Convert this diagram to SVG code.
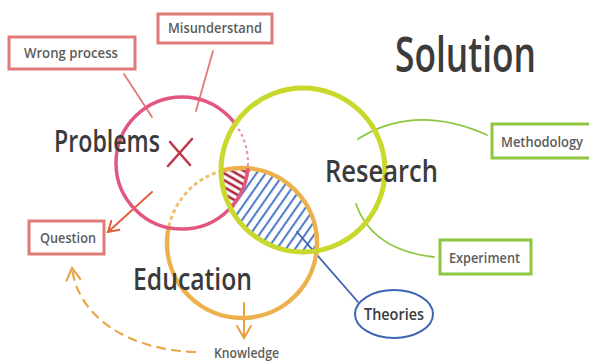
<svg xmlns="http://www.w3.org/2000/svg" width="589" height="363" viewBox="0 0 589 363">
<style>
.big{font-family:"Open Sans","Liberation Sans",sans-serif;font-weight:600;fill:#3b3b3b}
.lbl{font-family:"Open Sans","Liberation Sans",sans-serif;font-weight:600;font-size:14px;fill:#5c5c5c}
.pbox{fill:#fff;stroke:#e07a78;stroke-width:3}
.gbox{fill:#fff;stroke:#8dc63f;stroke-width:3}
.conn{fill:none;stroke-linecap:round}
</style>
<defs>
<clipPath id="cP"><circle cx="182" cy="163" r="66"/></clipPath>
<clipPath id="cG"><circle cx="303" cy="170" r="82"/></clipPath>
<clipPath id="cO"><circle cx="242" cy="243" r="75"/></clipPath>
<mask id="notP" maskUnits="userSpaceOnUse" x="0" y="0" width="589" height="363"><rect width="589" height="363" fill="#fff"/><circle cx="182" cy="163" r="66" fill="#000"/></mask>
<mask id="pSolid" maskUnits="userSpaceOnUse" x="0" y="0" width="589" height="363"><rect width="589" height="363" fill="#fff"/><circle cx="303" cy="170" r="82" fill="#000"/><circle cx="242" cy="243" r="75" fill="#fff"/></mask>
<mask id="pDash" maskUnits="userSpaceOnUse" x="0" y="0" width="589" height="363"><rect width="589" height="363" fill="#000"/><circle cx="303" cy="170" r="82" fill="#fff"/><circle cx="242" cy="243" r="75" fill="#000"/></mask>
<mask id="oSolid" maskUnits="userSpaceOnUse" x="0" y="0" width="589" height="363"><rect width="589" height="363" fill="#fff"/><circle cx="182" cy="163" r="66" fill="#000"/><circle cx="303" cy="170" r="82" fill="#fff"/></mask>
<mask id="oDash" maskUnits="userSpaceOnUse" x="0" y="0" width="589" height="363"><rect width="589" height="363" fill="#000"/><circle cx="182" cy="163" r="66" fill="#fff"/><circle cx="303" cy="170" r="82" fill="#000"/></mask>
<pattern id="blueHatch" width="7.5" height="10" patternUnits="userSpaceOnUse" patternTransform="rotate(35)"><line x1="2" y1="0" x2="2" y2="10" stroke="#4a78c8" stroke-width="2"/></pattern>
<pattern id="redHatch" width="10" height="6" patternUnits="userSpaceOnUse" patternTransform="rotate(30)"><line x1="0" y1="2" x2="10" y2="2" stroke="#a8283c" stroke-width="2.6"/></pattern>
<marker id="arrR" markerWidth="14" markerHeight="14" refX="12" refY="7" orient="auto" markerUnits="userSpaceOnUse"><path d="M2 1 L12 7 L2 13" fill="none" stroke="#e0603a" stroke-width="2" stroke-linecap="round"/></marker>
<marker id="arrO" markerWidth="16" markerHeight="16" refX="14" refY="8" orient="auto" markerUnits="userSpaceOnUse"><path d="M2 1 L14 8 L2 15" fill="none" stroke="#e8a040" stroke-width="2" stroke-linecap="round"/></marker>
</defs>
<rect width="589" height="363" fill="#fff"/>

<g id="hatching">
<g clip-path="url(#cG)"><g mask="url(#notP)"><rect x="160" y="160" width="230" height="170" fill="url(#blueHatch)" clip-path="url(#cO)"/></g></g>
<g clip-path="url(#cP)"><g clip-path="url(#cG)"><rect x="200" y="150" width="80" height="70" fill="url(#redHatch)" clip-path="url(#cO)"/></g></g>
</g>

<g id="connectors">
<line class="conn" x1="124" y1="74" x2="152" y2="117" stroke="#e07a78" stroke-width="1.8"/>
<line class="conn" x1="213" y1="51" x2="196" y2="111" stroke="#e07a78" stroke-width="1.8"/>
<path class="conn" d="M358 139 Q415 103 487 135" stroke="#8dc63f" stroke-width="1.8"/>
<path class="conn" d="M356 204 Q372 250 434 257" stroke="#8dc63f" stroke-width="1.8"/>
<line class="conn" x1="297" y1="232" x2="358" y2="302" stroke="#3f63b0" stroke-width="1.8"/>
<line class="conn" x1="152" y1="192" x2="108" y2="232" stroke="#e0603a" stroke-width="2" marker-end="url(#arrR)"/>
<line class="conn" x1="244" y1="303" x2="244" y2="338" stroke="#e8a040" stroke-width="2" marker-end="url(#arrO)"/>
<path class="conn" d="M195 352 C130 350 78 318 72 268" stroke="#e8a848" stroke-width="2.2" stroke-dasharray="8 7" marker-end="url(#arrO)"/>
</g>

<g id="education">
<circle cx="242" cy="243" r="75" fill="none" stroke="#ecb04d" stroke-width="4.5" mask="url(#oSolid)"/>
<circle cx="242" cy="243" r="75" fill="none" stroke="#f0c070" stroke-width="3" stroke-dasharray="4 3" mask="url(#oDash)"/>
<text class="big" x="133" y="290" font-size="30" textLength="119" lengthAdjust="spacingAndGlyphs">Education</text>
</g>

<g id="problems">
<circle cx="182" cy="163" r="66" fill="none" stroke="#e2577f" stroke-width="3.5" mask="url(#pSolid)"/>
<circle cx="182" cy="163" r="66" fill="none" stroke="#ec8aa6" stroke-width="2" stroke-dasharray="3 3" mask="url(#pDash)"/>
<text class="big" x="54" y="152" font-size="30" textLength="106" lengthAdjust="spacingAndGlyphs">Problems</text>
<path d="M170 142 L190 165 M192 139 L168 166" fill="none" stroke="#c0394b" stroke-width="2.6" stroke-linecap="round"/>
</g>

<g id="research">
<circle cx="303" cy="170" r="82" fill="none" stroke="#c8d82c" stroke-width="5"/>
<text class="big" x="325" y="182" font-size="30" textLength="113" lengthAdjust="spacingAndGlyphs">Research</text>
</g>

<g id="solution">
<text class="big" x="395" y="72" font-size="48" textLength="141" lengthAdjust="spacingAndGlyphs">Solution</text>
</g>

<g id="wrong-process">
<rect class="pbox" x="9" y="37" width="126" height="32"/>
<text class="lbl" x="24" y="58" textLength="94" lengthAdjust="spacingAndGlyphs">Wrong process</text>
</g>

<g id="misunderstand">
<rect class="pbox" x="158" y="14" width="114" height="29"/>
<text class="lbl" x="168" y="33" textLength="94" lengthAdjust="spacingAndGlyphs">Misunderstand</text>
</g>

<g id="question">
<rect class="pbox" x="29" y="221" width="75" height="33"/>
<text class="lbl" x="40" y="243" textLength="56" lengthAdjust="spacingAndGlyphs">Question</text>
</g>

<g id="methodology">
<rect class="gbox" x="492" y="124" width="100" height="34"/>
<text class="lbl" x="501" y="147" textLength="82" lengthAdjust="spacingAndGlyphs">Methodology</text>
</g>

<g id="experiment">
<rect class="gbox" x="440" y="240" width="91" height="34"/>
<text class="lbl" x="449" y="263" textLength="71" lengthAdjust="spacingAndGlyphs">Experiment</text>
</g>

<g id="theories">
<ellipse cx="394" cy="314" rx="39" ry="24" fill="#fff" stroke="#3f63b0" stroke-width="2"/>
<text class="big" x="364" y="320" font-size="16" textLength="60" lengthAdjust="spacingAndGlyphs">Theories</text>
</g>

<g id="knowledge">
<text class="lbl" x="214" y="358" textLength="65" lengthAdjust="spacingAndGlyphs">Knowledge</text>
</g>
</svg>
